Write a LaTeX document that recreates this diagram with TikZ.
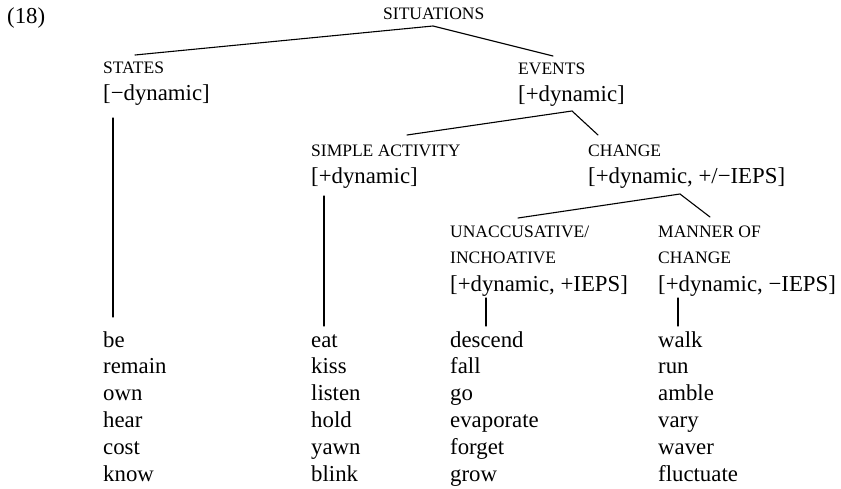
\documentclass[tikz,border=0pt]{standalone}
\usepackage{fontspec}
\setmainfont{Liberation Serif}
\begin{document}
\tikzset{
  featline/.style={anchor=base west, inner sep=0pt, font=\fontsize{22.8}{26}\selectfont},
  catname/.style={anchor=base west, inner sep=0pt, font=\fontsize{17.5}{20}\selectfont},
  branch/.style={line width=1.1pt, line cap=round}
}
\begin{tikzpicture}[x=1pt,y=-1pt]
\useasboundingbox (0,0) rectangle (841,489);

% example number and root
\node[featline] (ex) at (7,24) {(18)};
\node[catname] (sit) at (383,20) {SITUATIONS};

% first level
\node[catname] (states) at (103,74) {STATES};
\node[featline] (statesf) at (103,101) {[−dynamic]};
\node[catname] (events) at (518,75) {EVENTS};
\node[featline] (eventsf) at (518,102) {[+dynamic]};

% second level
\node[catname] (simple) at (311,157) {SIMPLE ACTIVITY};
\node[featline] (simplef) at (311,184) {[+dynamic]};
\node[catname] (change) at (588,157) {CHANGE};
\node[featline] (changef) at (588,184) {[+dynamic, +/−IEPS]};

% third level
\node[catname] (unacc) at (450,238) {UNACCUSATIVE/};
\node[catname] (unaccb) at (450,264) {INCHOATIVE};
\node[featline] (unaccf) at (450,291) {[+dynamic, +IEPS]};
\node[catname] (manner) at (658,238) {MANNER OF};
\node[catname] (mannerb) at (658,264) {CHANGE};
\node[featline] (mannerf) at (658,291) {[+dynamic, −IEPS]};

% verb lists
\foreach \w [count=\i] in {be,remain,own,hear,cost,know}
  \node[featline] (stv\i) at (103,{347+26.8*(\i-1)}) {\w};
\foreach \w [count=\i] in {eat,kiss,listen,hold,yawn,blink}
  \node[featline] (acv\i) at (311,{347+26.8*(\i-1)}) {\w};
\foreach \w [count=\i] in {descend,fall,go,evaporate,forget,grow}
  \node[featline] (unv\i) at (450,{347+26.8*(\i-1)}) {\w};
\foreach \w [count=\i] in {walk,run,amble,vary,waver,fluctuate}
  \node[featline] (mav\i) at (658,{347+26.8*(\i-1)}) {\w};

% branch points
\coordinate (sitapex) at (433,26);
\coordinate (statestop) at (135,55);
\coordinate (eventstop) at (553,56);
\coordinate (evapex) at (572,111);
\coordinate (simpletop) at (407,135);
\coordinate (changetop) at (598,135);
\coordinate (chapex) at (680,194);
\coordinate (unacctop) at (518,218);
\coordinate (mannertop) at (710,217);

\draw[branch] (statestop) -- (sitapex) -- (eventstop);
\draw[branch] (simpletop) -- (evapex) -- (changetop);
\draw[branch] (unacctop) -- (chapex) -- (mannertop);

% vertical stems down to the verb lists
\coordinate (ststemtop) at (113,118);
\coordinate (ststembot) at (113,317);
\coordinate (acstemtop) at (324,196);
\coordinate (acstembot) at (324,326);
\coordinate (unstemtop) at (486,298);
\coordinate (unstembot) at (486,326);
\coordinate (mastemtop) at (678,298);
\coordinate (mastembot) at (678,326);
\draw[branch] (ststemtop) -- (ststembot);
\draw[branch] (acstemtop) -- (acstembot);
\draw[branch] (unstemtop) -- (unstembot);
\draw[branch] (mastemtop) -- (mastembot);
\end{tikzpicture}
\end{document}
